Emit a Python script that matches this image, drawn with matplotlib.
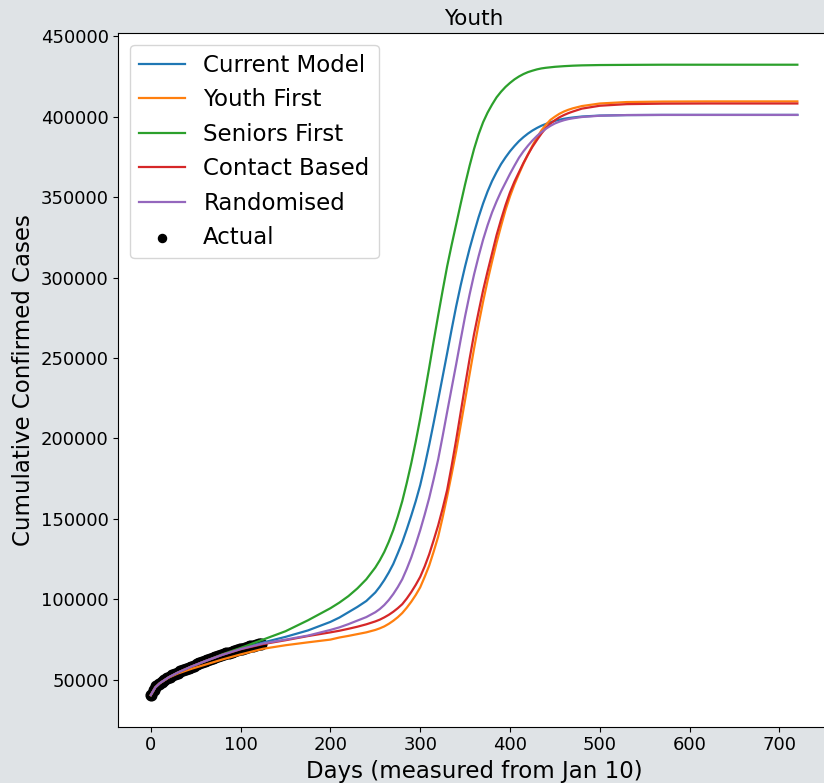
"""Cumulative confirmed cases under each vaccination roll-out strategy (Youth)."""

import matplotlib
matplotlib.use("Agg")
import matplotlib.pyplot as plt

# Model output, sampled on a shared day grid (days since Jan 10);
# finer steps through the outbreak wave where the curves bend quickly.
DAYS = ([0, 5, 10, 20, 30, 45, 60, 80, 100, 125, 150, 175, 200, 210, 220, 230, 240]
        + list(range(250, 471, 5))
        + [480, 500, 530, 570, 620, 670, 720])

CURRENT_MODEL = [
    40500, 45300, 47900, 51600, 54500, 58200, 61500, 65700, 69400, 73200, 76700, 80700, 86000, 88700, 92000, 95300, 99000,
    104300, 107900, 112000, 116700, 122000, 128600, 135500, 143500, 152000, 161000, 171000, 183000, 196000, 209800, 224000,
    238500, 253000, 267800, 282000, 295000, 307000, 318000, 328000, 337500, 346000, 353500, 360000, 365500, 370500, 374700,
    378500, 381800, 384800, 387300, 389500, 391400, 393000, 394400, 395500, 396500, 397400, 398100, 398700, 399150, 399500,
    400100, 400700, 401000, 401100, 401100, 401100, 401100]

YOUTH_FIRST = [
    40500, 45300, 47900, 51400, 53900, 56800, 59300, 62700, 65800, 69300, 71500, 73300, 75000, 76300, 77300, 78400, 79500,
    81000, 82000, 83200, 84800, 86700, 88900, 91500, 94800, 98500, 102700, 107500, 114000, 121000, 129700, 139000,
    151000, 164000, 177800, 192000, 208000, 224000, 240000, 256000, 271000, 285000, 298000, 310000, 321500, 332000, 342000,
    350500, 358000, 364500, 370800, 376500, 382000, 387000, 391500, 395000, 398000, 400000, 401800, 403200, 404300, 405200,
    406600, 408200, 409100, 409400, 409500, 409500, 409500]

SENIORS_FIRST = [
    40500, 45300, 47900, 51600, 54500, 58200, 61500, 65900, 69800, 75000, 80200, 87000, 94500, 98000, 102000, 106800, 112500,
    119800, 124300, 129500, 135800, 143000, 151500, 161000, 172300, 184500, 198000, 212500, 228000, 244000, 260500, 276500,
    292000, 307000, 320300, 333000, 345700, 358000, 369500, 380000, 389000, 396500, 402500, 407500, 412000, 415500, 418500,
    421000, 423200, 425000, 426500, 427700, 428600, 429400, 430000, 430400, 430700, 431000, 431200, 431400, 431550, 431700,
    431900, 432100, 432200, 432300, 432300, 432300, 432300]

CONTACT_BASED = [
    40500, 45300, 47900, 51600, 54500, 58200, 61500, 65600, 69000, 72200, 74600, 77200, 79500, 80500, 81700, 83000, 84500,
    86300, 87400, 88800, 90400, 92300, 94500, 97000, 100500, 104500, 109000, 114000, 120500, 128000, 136800, 146000,
    156500, 168000, 183000, 199000, 216000, 233000, 249500, 265000, 278700, 292000, 303800, 315000, 326300, 336000, 345000,
    353000, 359700, 365500, 371300, 376500, 381300, 385500, 389500, 393000, 395700, 397800, 399600, 401000, 402200, 403200,
    405000, 406800, 407800, 408100, 408200, 408200, 408200]

RANDOMISED = [
    40500, 45300, 47900, 51600, 54500, 58200, 61500, 65600, 69100, 72600, 75000, 77500, 81000, 82600, 84600, 86800, 89000,
    92000, 94000, 96500, 99600, 103300, 107600, 112500, 118900, 126000, 134200, 143000, 152700, 163000, 174700, 187000,
    201500, 216500, 231300, 246000, 261200, 276000, 289500, 302000, 313200, 323500, 332500, 340500, 347300, 353500, 359000,
    364500, 369600, 374500, 378500, 382000, 385200, 388000, 390400, 392500, 394300, 395800, 396900, 397800, 398500, 399000,
    399800, 400600, 401000, 401100, 401100, 401100, 401100]

# Reported cumulative cases
ACTUAL_DAYS = list(range(0, 124, 3))
ACTUAL_CASES = [40500, 43800, 45900, 47500, 48800, 49900, 50900, 51900, 52800, 53700, 54500,
                55300, 56100, 56800, 57500, 58200, 58900, 59600, 60200, 60900, 61500,
                62200, 62800, 63500, 64100, 64800, 65300, 65800, 66400, 66900, 67400,
                67900, 68400, 68900, 69400, 69900, 70300, 70800, 71300, 71700, 72100, 72500]

SCENARIOS = [
    ("Current Model", CURRENT_MODEL),
    ("Youth First", YOUTH_FIRST),
    ("Seniors First", SENIORS_FIRST),
    ("Contact Based", CONTACT_BASED),
    ("Randomised", RANDOMISED),
]


def main():
    fig = plt.figure(figsize=(8.24, 7.83), dpi=100, facecolor="#dfe3e6")
    ax = fig.add_axes([0.1438, 0.072, 0.8631, 0.8856])

    for label, values in SCENARIOS:
        assert len(values) == len(DAYS), label
        ax.plot(DAYS, values, label=label, linewidth=1.6)
    ax.scatter(ACTUAL_DAYS, ACTUAL_CASES, color="black", s=60, label="Actual")

    ax.set_title("Youth", fontsize=15.5)
    ax.set_xlabel("Days (measured from Jan 10)", fontsize=16.5)
    ax.set_ylabel("Cumulative Confirmed Cases", fontsize=16.5)
    ax.tick_params(labelsize=13)
    ax.legend(loc="upper left", fontsize=16.5, markerscale=0.75)

    fig.savefig("out.png", dpi=100, facecolor=fig.get_facecolor())


if __name__ == "__main__":
    main()
